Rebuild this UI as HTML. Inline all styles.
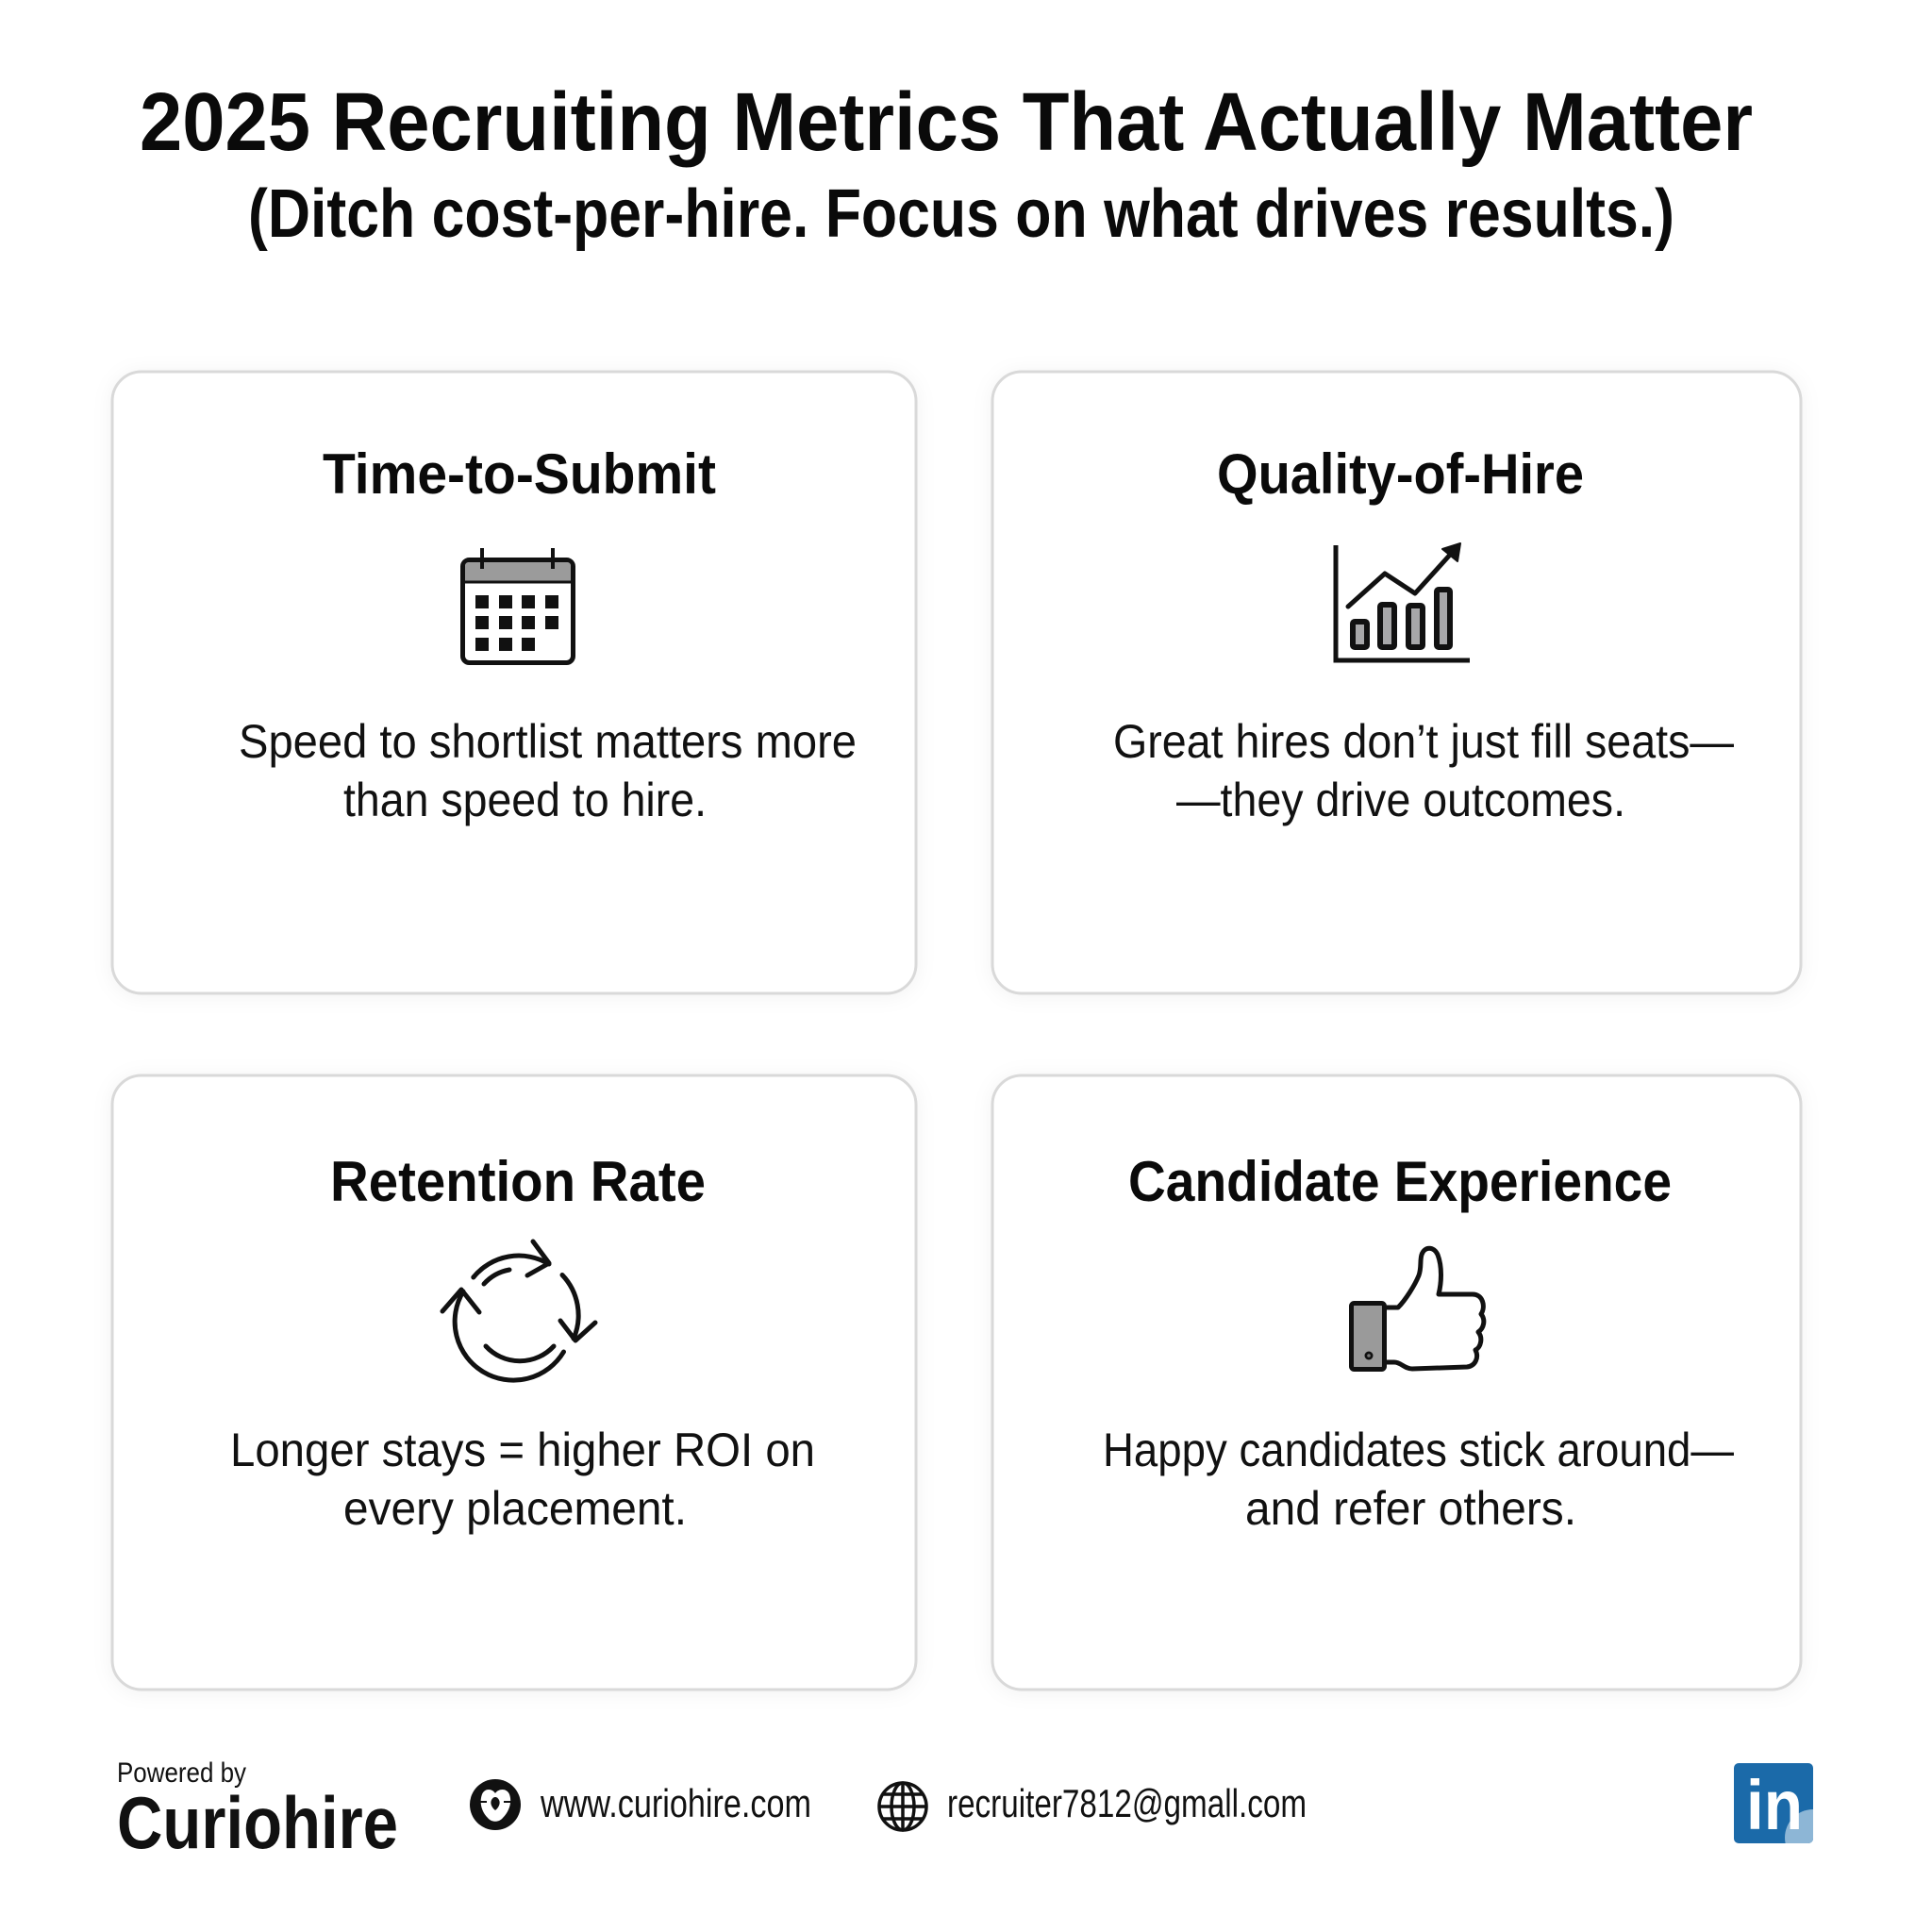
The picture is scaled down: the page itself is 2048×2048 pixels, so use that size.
<!DOCTYPE html>
<html>
<head>
<meta charset="utf-8">
<style>
  html, body { margin:0; padding:0; background:#ffffff; }
  body { width:2048px; height:2048px; overflow:hidden; }
  svg { display:block; }
  .t { font-family:"Liberation Sans", "DejaVu Sans", sans-serif; }
</style>
</head>
<body>
<svg width="2048" height="2048" viewBox="0 0 2048 2048" xmlns="http://www.w3.org/2000/svg">
  <defs>
    <filter id="sh" x="-10%" y="-10%" width="120%" height="120%">
      <feDropShadow dx="0" dy="2" stdDeviation="10" flood-color="#000" flood-opacity="0.05"/>
    </filter>
    <clipPath id="liclip"><rect x="1838" y="1869" width="84" height="85" rx="5"/></clipPath>
  </defs>

  <rect x="0" y="0" width="2048" height="2048" fill="#ffffff"/>

  <!-- Title -->
  <text class="t" x="148" y="159" font-size="87" font-weight="bold" fill="#0a0a0a" textLength="1710" lengthAdjust="spacingAndGlyphs">2025 Recruiting Metrics That Actually Matter</text>
  <text class="t" x="263" y="251" font-size="72" font-weight="bold" fill="#0a0a0a" textLength="1512" lengthAdjust="spacingAndGlyphs">(Ditch cost-per-hire. Focus on what drives results.)</text>

  <!-- Cards -->
  <g filter="url(#sh)">
    <rect x="119" y="394" width="852" height="659" rx="31" fill="#ffffff" stroke="#d9d9d9" stroke-width="3"/>
    <rect x="1052" y="394" width="857" height="659" rx="31" fill="#ffffff" stroke="#d9d9d9" stroke-width="3"/>
    <rect x="119" y="1140" width="852" height="651" rx="31" fill="#ffffff" stroke="#d9d9d9" stroke-width="3"/>
    <rect x="1052" y="1140" width="857" height="651" rx="31" fill="#ffffff" stroke="#d9d9d9" stroke-width="3"/>
  </g>

  <!-- Card titles -->
  <text class="t" x="342" y="523" font-size="60" font-weight="bold" fill="#0a0a0a" textLength="417" lengthAdjust="spacingAndGlyphs">Time-to-Submit</text>
  <text class="t" x="1290" y="523" font-size="60" font-weight="bold" fill="#0a0a0a" textLength="389" lengthAdjust="spacingAndGlyphs">Quality-of-Hire</text>
  <text class="t" x="350" y="1273" font-size="60" font-weight="bold" fill="#0a0a0a" textLength="398" lengthAdjust="spacingAndGlyphs">Retention Rate</text>
  <text class="t" x="1196" y="1273" font-size="60" font-weight="bold" fill="#0a0a0a" textLength="576" lengthAdjust="spacingAndGlyphs">Candidate Experience</text>

  <!-- Descriptions -->
  <g class="t" font-size="50" fill="#111111">
    <text x="253" y="803" textLength="655" lengthAdjust="spacingAndGlyphs">Speed to shortlist matters more</text>
    <text x="364" y="865" textLength="385" lengthAdjust="spacingAndGlyphs">than speed to hire.</text>
    <text x="1180" y="803" textLength="658" lengthAdjust="spacingAndGlyphs">Great hires don’t just fill seats—</text>
    <text x="1247" y="865" textLength="476" lengthAdjust="spacingAndGlyphs">—they drive outcomes.</text>
    <text x="244" y="1554" textLength="620" lengthAdjust="spacingAndGlyphs">Longer stays = higher ROI on</text>
    <text x="364" y="1616" textLength="364" lengthAdjust="spacingAndGlyphs">every placement.</text>
    <text x="1169" y="1554" textLength="669" lengthAdjust="spacingAndGlyphs">Happy candidates stick around—</text>
    <text x="1320" y="1616" textLength="351" lengthAdjust="spacingAndGlyphs">and refer others.</text>
  </g>

  <!-- Calendar icon -->
  <g>
    <rect x="490.5" y="593.5" width="117" height="109" rx="7" fill="#ffffff" stroke="#111" stroke-width="5"/>
    <path d="M493,616 L493,600 Q493,596 497,596 L601,596 Q605,596 605,600 L605,616 Z" fill="#9b9b9b"/>
    <line x1="491" y1="617" x2="607" y2="617" stroke="#111" stroke-width="3"/>
    <line x1="511" y1="581" x2="511" y2="603" stroke="#111" stroke-width="4"/>
    <line x1="586" y1="581" x2="586" y2="603" stroke="#111" stroke-width="4"/>
    <g fill="#111">
      <rect x="504" y="631" width="14" height="14"/>
      <rect x="529" y="631" width="14" height="14"/>
      <rect x="553" y="631" width="14" height="14"/>
      <rect x="578" y="631" width="14" height="14"/>
      <rect x="504" y="653" width="14" height="14"/>
      <rect x="529" y="653" width="14" height="14"/>
      <rect x="553" y="653" width="14" height="14"/>
      <rect x="578" y="653" width="14" height="14"/>
      <rect x="504" y="676" width="14" height="14"/>
      <rect x="529" y="676" width="14" height="14"/>
      <rect x="553" y="676" width="14" height="14"/>
    </g>
  </g>

  <!-- Chart icon -->
  <g>
    <polyline points="1416,578 1416,700 1558,700" fill="none" stroke="#111" stroke-width="5"/>
    <g fill="#a7a7a9" stroke="#111" stroke-width="6" stroke-linejoin="round">
      <rect x="1434" y="659" width="15" height="27" rx="2"/>
      <rect x="1463" y="641" width="15" height="45" rx="2"/>
      <rect x="1493" y="642" width="15" height="44" rx="2"/>
      <rect x="1523" y="625" width="14" height="61" rx="2"/>
    </g>
    <polyline points="1429,643 1468,608 1500,629 1538,587" fill="none" stroke="#111" stroke-width="5" stroke-linecap="round" stroke-linejoin="round"/>
    <polygon points="1529,582 1548,576 1545,595" fill="#111" stroke="#111" stroke-width="2" stroke-linejoin="round"/>
  </g>

  <!-- Rotation icon -->
  <g fill="none" stroke="#111" stroke-width="5" stroke-linecap="round" stroke-linejoin="round">
    <path d="M501.8,1354 A62,62 0 0 1 582,1340"/>
    <polyline points="565,1316 582,1339 559,1352"/>
    <path d="M596,1351.5 A62,62 0 0 1 608,1419"/>
    <polyline points="594,1400 610,1421 631,1402"/>
    <path d="M597.5,1433 A62,62 0 0 1 491,1369"/>
    <polyline points="469,1390 489,1367 508,1391"/>
    <path d="M513,1361 A48,48 0 0 1 540,1346"/>
    <path d="M587,1427 A49,49 0 0 1 515,1427"/>
  </g>

  <!-- Thumbs up icon -->
  <g stroke="#111" stroke-width="5" stroke-linejoin="round">
    <path d="M1470,1386 L1482,1386 C1490,1378 1500,1362 1504,1352 C1507,1344 1505,1336 1507,1330 C1510,1321 1520,1321 1524,1330 C1529,1343 1528,1360 1525,1372 L1561,1372 C1572,1372 1575,1385 1570,1393 C1575,1399 1573,1408 1567,1412 C1572,1418 1570,1428 1564,1431 C1568,1439 1564,1448 1555,1449 L1497,1451 C1489,1451 1485,1444 1478,1444 L1470,1444" fill="#ffffff"/>
    <rect x="1432.5" y="1381.5" width="35" height="70" rx="3" fill="#9a9a9a"/>
  </g>
  <circle cx="1451" cy="1437" r="4.5" fill="#111"/>
  <circle cx="1451" cy="1437" r="1.8" fill="#777"/>

  <!-- Footer -->
  <text class="t" x="124" y="1889" font-size="30" fill="#111" textLength="137" lengthAdjust="spacingAndGlyphs">Powered by</text>
  <text class="t" x="124" y="1959" font-size="78" font-weight="bold" fill="#111" textLength="298" lengthAdjust="spacingAndGlyphs">Curiohire</text>

  <circle cx="525" cy="1913" r="27" fill="#111"/>
  <path d="M511,1902 C514,1895 522,1896 525,1901 C528,1896 537,1895 540,1902 C543,1910 540,1920 533,1927 C529,1932 521,1932 517,1927 C510,1920 508,1910 511,1902 Z" fill="#ffffff"/>
  <path d="M521,1908 C523,1904 527,1904 529,1908 C531,1912 528,1917 525,1919 C522,1917 519,1912 521,1908 Z" fill="#111"/>
  <line x1="508" y1="1910" x2="516" y2="1910" stroke="#111" stroke-width="2"/>
  <line x1="534" y1="1910" x2="542" y2="1910" stroke="#111" stroke-width="2"/>

  <text class="t" x="573" y="1926" font-size="42" fill="#111" textLength="287" lengthAdjust="spacingAndGlyphs">www.curiohire.com</text>

  <g fill="none" stroke="#111" stroke-width="3.5">
    <circle cx="957" cy="1915" r="25"/>
    <ellipse cx="957" cy="1915" rx="12" ry="25"/>
    <line x1="957" y1="1890" x2="957" y2="1940"/>
    <line x1="932" y1="1915" x2="982" y2="1915"/>
    <line x1="936" y1="1902" x2="978" y2="1902"/>
    <line x1="936" y1="1928" x2="978" y2="1928"/>
  </g>
  <text class="t" x="1004" y="1926" font-size="42" fill="#111" textLength="381" lengthAdjust="spacingAndGlyphs">recruiter7812@gmall.com</text>

  <!-- LinkedIn -->
  <rect x="1838" y="1869" width="84" height="85" rx="5" fill="#1b6aa9"/>
  <circle cx="1922" cy="1948" r="30" fill="#8db6d6" clip-path="url(#liclip)"/>
  <text class="t" x="1851" y="1939" font-size="74" font-weight="bold" fill="#ffffff" textLength="60" lengthAdjust="spacingAndGlyphs">in</text>
</svg>
</body>
</html>
